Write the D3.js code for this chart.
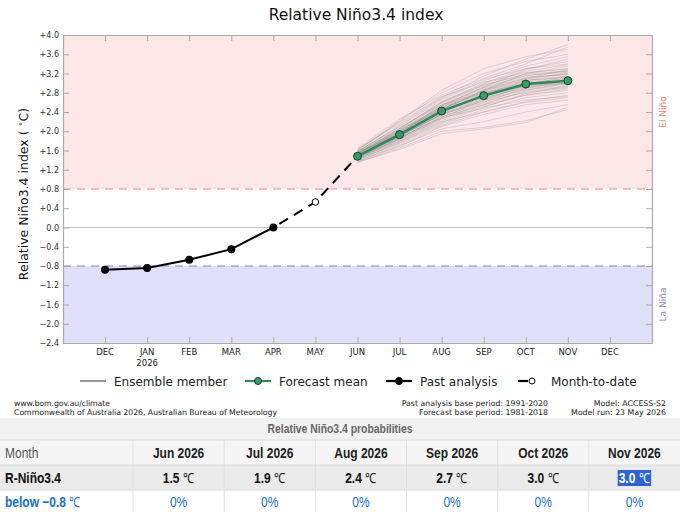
<!DOCTYPE html>
<html>
<head>
<meta charset="utf-8">
<script src="https://cdn.jsdelivr.net/npm/d3@7"></script>
<style>
  body { margin: 0; background: #fff; }
  svg text { font-family: "DejaVu Sans", sans-serif; }
  .tbl text { font-family: "Liberation Sans", Arial, sans-serif; }
</style>
</head>
<body>
<div id="graph"></div>
<script>
// month slots: 0 = DEC 2025 ... 12 = DEC 2026
var months = ['DEC', 'JAN', 'FEB', 'MAR', 'APR', 'MAY', 'JUN', 'JUL', 'AUG', 'SEP', 'OCT', 'NOV', 'DEC']
var yTicks = [-2.4, -2.0, -1.6, -1.2, -0.8, -0.4, 0, 0.4, 0.8, 1.2, 1.6, 2.0, 2.4, 2.8, 3.2, 3.6, 4.0]

var pastIdx = [0, 1, 2, 3, 4]
var pastVals = [-0.88, -0.84, -0.67, -0.45, 0.0]

var mtdIdx = 5
var mtdVal = 0.53

var fcIdx = [6, 7, 8, 9, 10, 11]
var fcMean = [1.48, 1.93, 2.42, 2.74, 2.98, 3.05]

// ensemble members, JUN..NOV (read by eye from the plume)
var members = [
  [1.52, 2.05, 2.60, 3.00, 3.30, 3.45],
  [1.45, 1.85, 2.30, 2.55, 2.75, 2.85],
  [1.60, 2.20, 2.80, 3.20, 3.45, 3.60],
  [1.38, 1.70, 2.05, 2.20, 2.40, 2.55],
  [1.55, 1.95, 2.45, 2.85, 3.10, 3.20],
  [1.48, 1.90, 2.35, 2.70, 2.95, 3.05],
  [1.42, 1.75, 2.15, 2.45, 2.70, 2.80],
  [1.65, 2.25, 2.75, 3.10, 3.40, 3.75],
  [1.50, 1.98, 2.50, 2.80, 3.05, 3.15],
  [1.35, 1.65, 2.00, 2.08, 2.22, 2.45],
  [1.58, 2.10, 2.65, 3.05, 3.35, 3.55],
  [1.47, 1.88, 2.40, 2.75, 3.00, 3.10],
  [1.53, 2.00, 2.55, 2.90, 3.15, 3.25],
  [1.44, 1.80, 2.25, 2.55, 2.85, 3.00],
  [1.62, 2.15, 2.70, 3.15, 3.50, 3.80],
  [1.40, 1.78, 2.20, 2.40, 2.60, 2.70],
  [1.56, 1.95, 2.40, 2.70, 2.90, 3.00],
  [1.49, 1.92, 2.45, 2.85, 3.20, 3.35],
  [1.37, 1.68, 2.10, 2.35, 2.55, 2.65],
  [1.51, 2.02, 2.58, 2.95, 3.20, 3.30],
  [1.46, 1.85, 2.30, 2.60, 2.90, 3.05],
  [1.59, 2.08, 2.55, 2.80, 3.00, 3.10],
  [1.43, 1.82, 2.28, 2.65, 2.95, 3.15],
  [1.54, 1.97, 2.48, 2.78, 2.98, 3.05],
  [1.50, 1.90, 2.35, 2.62, 2.80, 2.90],
  [1.57, 2.12, 2.68, 3.08, 3.30, 3.40],
  [1.41, 1.76, 2.18, 2.50, 2.78, 2.95],
  [1.52, 1.94, 2.42, 2.72, 2.95, 3.00],
  [1.48, 1.88, 2.38, 2.76, 3.05, 3.20],
  [1.55, 2.00, 2.52, 2.88, 3.12, 3.18],
  [1.63, 2.18, 2.72, 3.02, 3.22, 3.30],
  [1.39, 1.72, 2.12, 2.40, 2.62, 2.75],
  [1.47, 1.86, 2.32, 2.68, 2.92, 3.00],
  [1.53, 1.99, 2.46, 2.82, 3.08, 3.22],
  [1.45, 1.83, 2.26, 2.58, 2.82, 2.92],
  [1.58, 2.05, 2.62, 2.98, 3.25, 3.38],
  [1.50, 1.93, 2.44, 2.74, 2.96, 3.08],
  [1.44, 1.79, 2.22, 2.52, 2.75, 2.88],
  [1.56, 2.03, 2.50, 2.86, 3.10, 3.28],
  [1.49, 1.91, 2.36, 2.66, 2.88, 2.98],
  [1.61, 2.22, 2.85, 3.30, 3.55, 3.70],
  [1.36, 1.62, 1.95, 2.05, 2.18, 2.50],
  [1.46, 1.95, 2.52, 2.92, 3.28, 3.50],
  [1.51, 1.87, 2.28, 2.48, 2.65, 2.72],
  [1.54, 2.06, 2.60, 2.96, 3.18, 3.26],
  [1.49, 1.96, 2.48, 2.84, 3.06, 3.12],
  [1.52, 1.90, 2.34, 2.64, 2.86, 2.94],
  [1.46, 1.84, 2.36, 2.78, 3.02, 3.14],
  [1.57, 2.02, 2.46, 2.76, 2.94, 3.02],
  [1.50, 1.96, 2.54, 2.92, 3.16, 3.24]
]

// table
var tblMonths = ['Jun 2026', 'Jul 2026', 'Aug 2026', 'Sep 2026', 'Oct 2026', 'Nov 2026']
var tblValues = ['1.5', '1.9', '2.4', '2.7', '3.0', '3.0']
var tblBelow = ['0%', '0%', '0%', '0%', '0%', '0%']

var W = 680, H = 512
var svg = d3.select('#graph').append('svg').attr('width', W).attr('height', H)

var x = d3.scaleLinear().domain([-1, 13]).range([63, 652])
var y = d3.scaleLinear().domain([-2.4, 4.0]).range([343, 35])

var fmt = d => d == 0 ? '0.0' : (d > 0 ? '+' : '\u2212') + Math.abs(d).toFixed(1)

// background bands
svg.append('rect')
  .attr('x', x(-1)).attr('y', y(4)).attr('width', x(13) - x(-1)).attr('height', y(0.8) - y(4))
  .attr('fill', '#fde7e7')
svg.append('rect')
  .attr('x', x(-1)).attr('y', y(-0.8)).attr('width', x(13) - x(-1)).attr('height', y(-2.4) - y(-0.8))
  .attr('fill', '#e1e0fb')

svg.append('line').attr('x1', x(-1)).attr('x2', x(13)).attr('y1', y(0)).attr('y2', y(0))
  .attr('stroke', '#c4c4c4').attr('stroke-width', 1.2)
svg.append('line').attr('x1', x(-1)).attr('x2', x(13)).attr('y1', y(0.8)).attr('y2', y(0.8))
  .attr('stroke', '#f08a8a').attr('stroke-width', 1.2).attr('stroke-dasharray', '8,6')
svg.append('line').attr('x1', x(-1)).attr('x2', x(13)).attr('y1', y(-0.8)).attr('y2', y(-0.8))
  .attr('stroke', '#8282cc').attr('stroke-width', 1.2).attr('stroke-dasharray', '8,6')

// axes (ticks pointing inwards, matplotlib style)
var gx = svg.append('g').attr('transform', `translate(0,${y(-2.4)})`)
  .call(d3.axisBottom(x).tickValues(d3.range(13)).tickSizeInner(-6).tickSizeOuter(0).tickFormat(''))
var gxt = svg.append('g').attr('transform', `translate(0,${y(4)})`)
  .call(d3.axisTop(x).tickValues(d3.range(13)).tickSizeInner(-6).tickSizeOuter(0).tickFormat(''))
var gy = svg.append('g').attr('transform', `translate(${x(-1)},0)`)
  .call(d3.axisLeft(y).tickValues(yTicks).tickSizeInner(-6).tickSizeOuter(0).tickPadding(4).tickFormat(fmt))
var gyr = svg.append('g').attr('transform', `translate(${x(13)},0)`)
  .call(d3.axisRight(y).tickValues(yTicks).tickSizeInner(-6).tickSizeOuter(0).tickFormat(''))

;[gx, gxt, gy, gyr].forEach(g => {
  g.select('.domain').attr('stroke', '#aaa').attr('stroke-width', 1.2)
  g.selectAll('.tick line').attr('stroke', '#aaa')
})
gy.selectAll('.tick text').attr('font-size', 8).attr('fill', '#333').attr('font-family', 'DejaVu Sans')

// month labels
svg.append('g').selectAll('text').data(months).join('text')
  .attr('x', (d, i) => x(i)).attr('y', 355)
  .attr('text-anchor', 'middle').attr('font-size', 8.5).attr('fill', '#222')
  .text(d => d)
svg.append('text').attr('x', x(1)).attr('y', 366).attr('text-anchor', 'middle')
  .attr('font-size', 8.5).attr('fill', '#222').text('2026')

// ensemble plume
var line = d3.line().x(d => x(d[0])).y(d => y(d[1]))
svg.append('g').selectAll('path').data(members).join('path')
  .attr('d', m => line(m.map((v, i) => [fcIdx[i], v])))
  .attr('fill', 'none').attr('stroke', '#777').attr('stroke-opacity', 0.26).attr('stroke-width', 0.9)

// dashed link from last analysis through month-to-date to first forecast
svg.append('path')
  .attr('d', line([[pastIdx[4], pastVals[4]], [mtdIdx, mtdVal], [fcIdx[0], fcMean[0]]]))
  .attr('fill', 'none').attr('stroke', '#000').attr('stroke-width', 2).attr('stroke-dasharray', '10,7')
  .attr('stroke-dashoffset', -7)

// past analysis
svg.append('path').attr('d', line(pastIdx.map((d, i) => [d, pastVals[i]])))
  .attr('fill', 'none').attr('stroke', '#000').attr('stroke-width', 2)
svg.append('g').selectAll('circle').data(pastIdx).join('circle')
  .attr('cx', d => x(d)).attr('cy', (d, i) => y(pastVals[i])).attr('r', 4).attr('fill', '#000')

// month to date
svg.append('circle').attr('cx', x(mtdIdx)).attr('cy', y(mtdVal)).attr('r', 3.3)
  .attr('fill', '#fff').attr('stroke', '#000').attr('stroke-width', 1)

// forecast mean
svg.append('path').attr('d', line(fcIdx.map((d, i) => [d, fcMean[i]])))
  .attr('fill', 'none').attr('stroke', '#2e8b57').attr('stroke-width', 2.5)
svg.append('g').selectAll('circle').data(fcIdx).join('circle')
  .attr('cx', d => x(d)).attr('cy', (d, i) => y(fcMean[i])).attr('r', 4)
  .attr('fill', '#3a9a68').attr('stroke', '#16402a').attr('stroke-width', 1)

// titles
svg.append('text').attr('x', 356).attr('y', 20).attr('text-anchor', 'middle')
  .attr('font-size', 15.5).attr('fill', '#111').text('Relative Niño3.4 index')
var yl = svg.append('text').attr('transform', 'translate(28,194) rotate(-90)')
  .attr('text-anchor', 'middle').attr('font-size', 12.5).attr('fill', '#111')
yl.append('tspan').text('Relative Niño3.4 index ( ')
yl.append('tspan').attr('font-size', 8).attr('dy', -5).text('\u2218')
yl.append('tspan').attr('dy', 5).text('C)')

svg.append('text').attr('transform', `translate(666,${y(2.4)}) rotate(-90)`)
  .attr('text-anchor', 'middle').attr('font-size', 9).attr('fill', '#ee8080').text('El Niño')
svg.append('text').attr('transform', `translate(666,${y(-1.6)}) rotate(-90)`)
  .attr('text-anchor', 'middle').attr('font-size', 9).attr('fill', '#8a88bb').text('La Niña')

// legend
var legend = [
  {label: 'Ensemble member', x0: 80, type: 'ens'},
  {label: 'Forecast mean', x0: 245, type: 'fc'},
  {label: 'Past analysis', x0: 386, type: 'past'},
  {label: 'Month-to-date', x0: 518, type: 'mtd'}
]
var lg = svg.append('g').selectAll('g').data(legend).join('g')
  .attr('transform', d => `translate(${d.x0},381)`)
lg.append('line').attr('x1', 0).attr('x2', d => d.type == 'mtd' ? 10 : 26)
  .attr('stroke', d => d.type == 'ens' ? '#999' : d.type == 'fc' ? '#2e8b57' : '#000')
  .attr('stroke-width', d => d.type == 'ens' ? 2 : 2.2)
lg.filter(d => d.type != 'ens').append('circle')
  .attr('cx', d => d.type == 'mtd' ? 14 : 13).attr('r', d => d.type == 'mtd' ? 3 : 3.5)
  .attr('fill', d => d.type == 'fc' ? '#3a9a68' : d.type == 'past' ? '#000' : '#fff')
  .attr('stroke', d => d.type == 'fc' ? '#16402a' : '#000')
lg.append('text').attr('x', d => d.type == 'mtd' ? 33 : 34).attr('y', 4.5)
  .attr('font-size', 12).attr('fill', '#222').text(d => d.label)

// credits
var cr = svg.append('g').attr('font-size', 7.8).attr('fill', '#222')
cr.append('text').attr('x', 14).attr('y', 406).attr('textLength', 96).text('www.bom.gov.au/climate')
cr.append('text').attr('x', 14).attr('y', 415).attr('textLength', 263).text('Commonwealth of Australia 2026, Australian Bureau of Meteorology')
cr.append('text').attr('x', 548).attr('y', 406).attr('text-anchor', 'end').text('Past analysis base period: 1991-2020')
cr.append('text').attr('x', 548).attr('y', 415).attr('text-anchor', 'end').text('Forecast base period: 1981-2018')
cr.append('text').attr('x', 666).attr('y', 406).attr('text-anchor', 'end').text('Model: ACCESS-S2')
cr.append('text').attr('x', 666).attr('y', 415).attr('text-anchor', 'end').text('Model run: 23 May 2026')

// probability table (the page font is a narrow sans, so squeeze horizontally)
var sx = 0.8
var at = (px, py) => `translate(${px},${py}) scale(${sx},1)`
var tb = svg.append('g').attr('class', 'tbl')
var cx = d3.scaleBand().domain(tblMonths).range([133, 680])
var mid = d => cx(d) + cx.bandwidth() / 2
tb.append('rect').attr('x', 0).attr('y', 418).attr('width', W).attr('height', 22).attr('fill', '#f2f2f2')
tb.append('rect').attr('x', 0).attr('y', 440).attr('width', W).attr('height', 25).attr('fill', '#f5f5f5')
tb.append('rect').attr('x', 0).attr('y', 465).attr('width', W).attr('height', 25).attr('fill', '#eaeaea')
tb.append('rect').attr('x', 0).attr('y', 490).attr('width', W).attr('height', 22).attr('fill', '#fff')
;[440, 465, 490].forEach(yy => tb.append('line').attr('x1', 0).attr('x2', W).attr('y1', yy).attr('y2', yy)
  .attr('stroke', '#dddddd'))
tb.selectAll('.vl').data(tblMonths).join('line').attr('class', 'vl')
  .attr('x1', d => cx(d)).attr('x2', d => cx(d)).attr('y1', 440).attr('y2', 512).attr('stroke', '#e0e0e0')

tb.append('text').attr('transform', at(340, 433)).attr('text-anchor', 'middle')
  .attr('font-size', 13).attr('font-weight', 'bold').attr('fill', '#666').text('Relative Niño3.4 probabilities')
tb.append('text').attr('transform', at(5, 458)).attr('font-size', 15).attr('fill', '#555').text('Month')
tb.append('text').attr('transform', at(5, 483)).attr('font-size', 15).attr('font-weight', 'bold').attr('fill', '#111').text('R-Niño3.4')
var bl = tb.append('text').attr('transform', at(5, 507)).attr('font-size', 15).attr('font-weight', 'bold').attr('fill', '#1a6fc9')
bl.append('tspan').text('below \u22120.8 ')
bl.append('tspan').attr('font-weight', 'normal').attr('font-family', 'Liberation Serif, serif').attr('font-size', 14).text('\u2103')

tb.selectAll('.mh').data(tblMonths).join('text').attr('class', 'mh')
  .attr('transform', d => at(mid(d), 458)).attr('text-anchor', 'middle')
  .attr('font-size', 15).attr('font-weight', 'bold').attr('fill', '#222').text(d => d)

// highlighted last cell (text selection in the source page)
var hl = tb.append('rect').attr('fill', '#2f64d0')

var vt = tb.selectAll('.vv').data(tblValues).join('text').attr('class', 'vv')
  .attr('transform', (d, i) => at(mid(tblMonths[i]), 483)).attr('text-anchor', 'middle')
  .attr('font-size', 15).attr('fill', (d, i) => i == 5 ? '#fff' : '#111')
vt.append('tspan').attr('font-weight', 'bold').text(d => d + ' ')
vt.append('tspan').attr('font-family', 'Liberation Serif, serif').attr('font-size', 14).text('\u2103')

var bb = vt.filter((d, i) => i == 5).node().getBBox()
hl.attr('x', mid('Nov 2026') + bb.x * sx - 1).attr('y', 470).attr('width', bb.width * sx + 2).attr('height', 16)

tb.selectAll('.bv').data(tblBelow).join('text').attr('class', 'bv')
  .attr('transform', (d, i) => at(mid(tblMonths[i]), 507)).attr('text-anchor', 'middle')
  .attr('font-size', 15).attr('fill', '#1a6fc9').text(d => d)
</script>
</body>
</html>
